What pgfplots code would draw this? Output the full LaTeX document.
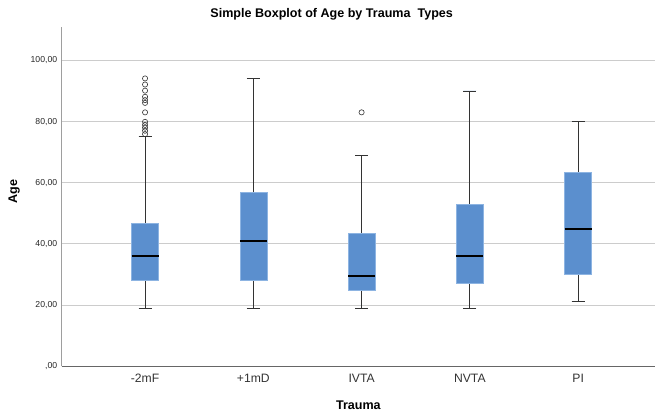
\documentclass[border=0pt]{standalone}
\usepackage{pgfplots}
\pgfplotsset{compat=1.18}
\usepgfplotslibrary{statistics}
\usepackage{fontspec}
\setmainfont{Liberation Sans}
\definecolor{boxblue}{HTML}{5B8FCE}
\definecolor{boxedge}{HTML}{8DB4E2}
\definecolor{whisk}{HTML}{333333}
\begin{document}
\begin{tikzpicture}
\path[use as bounding box] (-61.7bp,-49.7bp) rectangle (595.3bp,366.3bp);
\begin{axis}[
  at={(0,0)}, anchor=south west,
  scale only axis, width=593.3bp, height=339.6bp,
  xmin=-0.77, xmax=4.71, ymin=0, ymax=111,
  axis x line=bottom, axis y line=left,
  every inner x axis line/.append style={-},
  every outer x axis line/.append style={-},
  every inner y axis line/.append style={-},
  every outer y axis line/.append style={-},
  x axis line style={-, draw=black!60, line width=0.9bp},
  y axis line style={-, draw=black!38, line width=0.9bp},
  xtick={0,1,2,3,4},
  xticklabels={-2mF,+1mD,IVTA,NVTA,PI},
  ytick={0,20,40,60,80,100},
  yticklabels={{,00},{20,00},{40,00},{60,00},{80,00},{100,00}},
  major tick length=0pt,
  ymajorgrids, grid style={draw=black!20, line width=0.9bp},
  x tick label style={font=\fontsize{12.2}{13}\selectfont, text=black!80, yshift=-4.5bp},
  y tick label style={font=\fontsize{8.7}{9}\selectfont, text=black!85, xshift=-1bp},
  xlabel={Trauma}, ylabel={Age},
  x label style={at={(axis description cs:0.5,-0.1134)}, anchor=center, font=\fontsize{12.6}{14}\bfseries},
  y label style={at={(axis description cs:-0.0801,0.515)}, anchor=center, rotate=0, font=\fontsize{12.6}{14}\bfseries},
  title={Simple Boxplot of Age by Trauma\ \ Types},
  title style={at={(axis description cs:0.455,1)}, anchor=base, yshift=3.7bp, font=\fontsize{12.6}{14}\bfseries},
  boxplot/draw direction=y,
  boxplot/box extend=0.25,
  boxplot/whisker extend=0.12,
  clip=false,
]
% -2mF
\addplot+[solid, fill=boxblue, draw=boxedge, line width=0.6bp,
  mark=o, mark size=2.6bp, mark options={draw=black!80, fill=white, line width=0.6bp},
  boxplot prepared={draw position=0, lower whisker=19, lower quartile=28.1, median=36.0, upper quartile=46.9, upper whisker=75.0},
  boxplot/every whisker/.style={draw=whisk, line width=0.8bp},
  boxplot/every median/.style={draw=black, line width=2bp}]
  coordinates {(0,94.1) (0,92.1) (0,90.1) (0,88.1) (0,87.0) (0,86.1) (0,83.0) (0,79.9) (0,78.9) (0,78.0) (0,77.0) (0,75.9)};
% +1mD
\addplot+[solid, fill=boxblue, draw=boxedge, line width=0.6bp, mark=none,
  boxplot prepared={draw position=1, lower whisker=19, lower quartile=28.1, median=40.9, upper quartile=56.9, upper whisker=94.0},
  boxplot/every whisker/.style={draw=whisk, line width=0.8bp},
  boxplot/every median/.style={draw=black, line width=2bp}]
  coordinates {};
% IVTA
\addplot+[solid, fill=boxblue, draw=boxedge, line width=0.6bp,
  mark=o, mark size=2.6bp, mark options={draw=black!80, fill=white, line width=0.6bp},
  boxplot prepared={draw position=2, lower whisker=19, lower quartile=24.7, median=29.5, upper quartile=43.5, upper whisker=69.0},
  boxplot/every whisker/.style={draw=whisk, line width=0.8bp},
  boxplot/every median/.style={draw=black, line width=2bp}]
  coordinates {(2,83.0)};
% NVTA
\addplot+[solid, fill=boxblue, draw=boxedge, line width=0.6bp, mark=none,
  boxplot prepared={draw position=3, lower whisker=19, lower quartile=27.1, median=36.0, upper quartile=52.9, upper whisker=90.0},
  boxplot/every whisker/.style={draw=whisk, line width=0.8bp},
  boxplot/every median/.style={draw=black, line width=2bp}]
  coordinates {};
% PI
\addplot+[solid, fill=boxblue, draw=boxedge, line width=0.6bp, mark=none,
  boxplot prepared={draw position=4, lower whisker=21.1, lower quartile=30.2, median=45.0, upper quartile=63.3, upper whisker=80.0},
  boxplot/every whisker/.style={draw=whisk, line width=0.8bp},
  boxplot/every median/.style={draw=black, line width=2bp}]
  coordinates {};
\end{axis}
\end{tikzpicture}
\end{document}
